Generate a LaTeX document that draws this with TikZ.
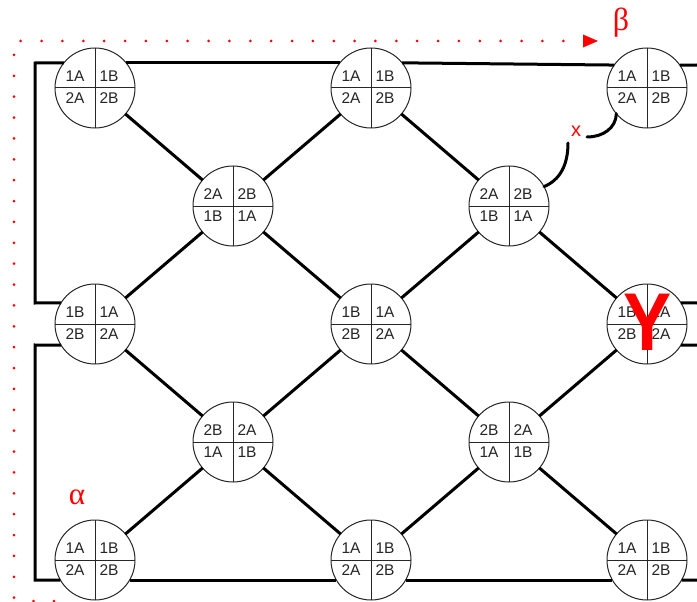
\documentclass[tikz,border=0pt]{standalone}
\usepackage{fontspec}
\setmainfont{Liberation Sans}
\newfontfamily\grkfont{Liberation Serif}
\usetikzlibrary{calc}
\tikzset{
  hub/.style={circle, draw=black!85, line width=1pt, minimum size=80pt, inner sep=0pt, outer sep=0pt, fill=white},
  divider/.style={black!85, line width=1pt},
  lbl/.style={font=\fontsize{15.5}{16}\selectfont, text=black!85, inner sep=0pt},
  wire/.style={line width=3pt, black, line join=miter},
  greek/.style={text=red, inner sep=0pt},
}
\newcommand\hubnode[6]{%
  \node[hub] (#1) at (#2) {};
  \draw[divider] (#1.north) -- (#1.south) (#1.west) -- (#1.east);
  \node[lbl] (#1tl) at ($(#1)+(-20,-12)$) {#3};
  \node[lbl] (#1tr) at ($(#1)+(14,-12)$) {#4};
  \node[lbl] (#1bl) at ($(#1)+(-20,10)$) {#5};
  \node[lbl] (#1br) at ($(#1)+(14,10)$) {#6};
}
\begin{document}
\begin{tikzpicture}[x=1pt,y=-1pt]
\useasboundingbox (0,0) rectangle (697,602);
% red dotted frame
\foreach \i in {0,...,26} \fill[red] (20.7+20.87*\i,41) circle (1.5);
\foreach \i in {0,...,26} \fill[red] (14,55+20.87*\i) circle (1.5);
\fill[red] (33.5,601) circle (1.5) (54,601) circle (1.5);
\fill[red] (583,34.5) -- (598,41) -- (583,47.5) -- cycle;
\node[greek, font=\grkfont\fontsize{32}{32}\selectfont] (beta) at (621,23) {β};
\node[greek, font=\grkfont\fontsize{31}{31}\selectfont] (alpha) at (77,497) {α};
% hubs
\hubnode{c11}{95,88}{1A}{1B}{2A}{2B}
\hubnode{c31}{371,88}{1A}{1B}{2A}{2B}
\hubnode{c51}{647,88}{1A}{1B}{2A}{2B}
\hubnode{c22}{233,206}{2A}{2B}{1B}{1A}
\hubnode{c42}{509,206}{2A}{2B}{1B}{1A}
\hubnode{c13}{95,324}{1B}{1A}{2B}{2A}
\hubnode{c33}{371,324}{1B}{1A}{2B}{2A}
\hubnode{c53}{647,324}{1B}{1A}{2B}{2A}
\hubnode{c24}{233,442}{2B}{2A}{1A}{1B}
\hubnode{c44}{509,442}{2B}{2A}{1A}{1B}
\hubnode{c15}{95,560}{1A}{1B}{2A}{2B}
\hubnode{c35}{371,560}{1A}{1B}{2A}{2B}
\hubnode{c55}{647,560}{1A}{1B}{2A}{2B}
% free ends
\coordinate (ka) at (35,63);
\coordinate (kb) at (35,303);
\coordinate (kc) at (35,345);
\coordinate (kd) at (35,580);
\coordinate (re1) at (697,65);
\coordinate (re2) at (697,303);
\coordinate (re3) at (697,345);
\coordinate (re4) at (697,580);
\coordinate (xlo) at (568,143);
\coordinate (xhi) at (587,137);
% outer wires
\draw[wire] (c11.141) -- (ka) -- (kb) -- (c13.148);
\draw[wire] (c13.212) -- (kc) -- (kd) -- (c15.210);
\draw[wire] (c11.39) -- (c31.141);
\draw[wire] (c31.39) -- (c51.145);
\draw[wire] (c51.35) -- (re1);
\draw[wire] (c53.32) -- (re2);
\draw[wire] (c53.-32) -- (re3);
\draw[wire] (c15.-30) -- (c35.210);
\draw[wire] (c35.-30) -- (c55.210);
\draw[wire] (c55.-30) -- (re4);
% diagonals
\draw[wire] (c11) -- (c22);
\draw[wire] (c22) -- (c31);
\draw[wire] (c31) -- (c42);
\draw[wire] (c42) -- (c53);
\draw[wire] (c22) -- (c13);
\draw[wire] (c22) -- (c33);
\draw[wire] (c42) -- (c33);
\draw[wire] (c13) -- (c24);
\draw[wire] (c33) -- (c24);
\draw[wire] (c33) -- (c44);
\draw[wire] (c53) -- (c44);
\draw[wire] (c24) -- (c15);
\draw[wire] (c24) -- (c35);
\draw[wire] (c44) -- (c35);
\draw[wire] (c44) -- (c55);
% x curve
\draw[wire, line cap=round] (c42.29) .. controls (560,180) and (568,165) .. (xlo);
\draw[wire, line cap=round] (xhi) .. controls (603,137) and (616,128) .. (c51.220);
\node[text=red, inner sep=0pt, font=\fontsize{20}{20}\selectfont] (xl) at (576,131) {x};
% big Y
\node[text=red, inner sep=0pt, font=\fontsize{82}{82}\selectfont\bfseries, xscale=0.88] (ybig) at (648,322) {Y};
\end{tikzpicture}
\end{document}
